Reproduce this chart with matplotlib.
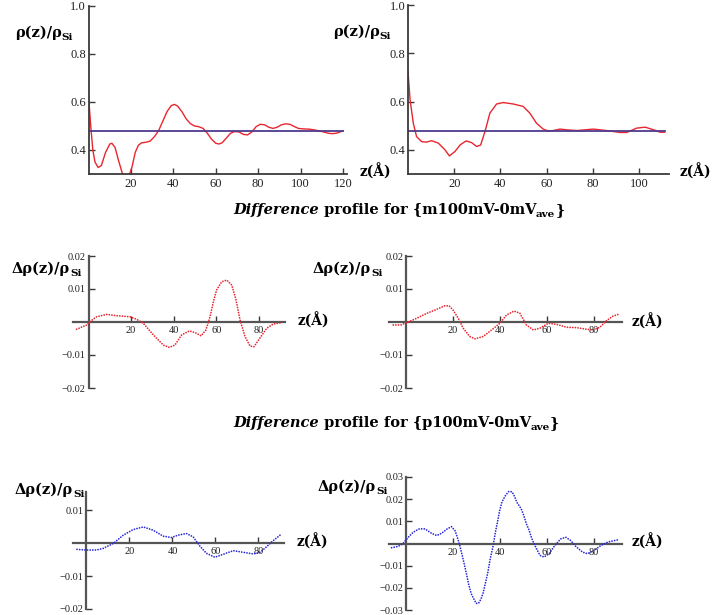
"""
Density profiles rho(z)/rho_Si and difference profiles, recreated from the figure.
"""
import matplotlib
matplotlib.use("Agg")
import matplotlib.pyplot as plt
from matplotlib.text import Annotation

W, H = 716, 615

# top row: rho(z)/rho_Si
Z_TL = [0, 1, 2, 3, 4.5, 6, 8, 10, 11, 12.5, 14, 16, 17.5, 19, 20.5, 22, 23.5, 25, 27, 29,
        31, 33, 35, 37, 39, 40.5, 42, 44, 46, 48, 50, 52, 54, 56, 58, 60, 61.5, 63, 65, 67,
        69, 71, 73, 75, 77, 79, 81, 83, 85, 87, 89, 91, 93, 95, 97, 99, 101, 104, 107, 110,
        113, 115, 117, 120]
RHO_TL = [0.62, 0.50, 0.40, 0.35, 0.327, 0.335, 0.39, 0.425, 0.428, 0.41, 0.36, 0.30, 0.278,
          0.29, 0.33, 0.39, 0.42, 0.43, 0.432, 0.437, 0.455, 0.48, 0.52, 0.56, 0.585, 0.59,
          0.583, 0.56, 0.53, 0.51, 0.50, 0.497, 0.49, 0.47, 0.445, 0.428, 0.425, 0.43, 0.45,
          0.47, 0.477, 0.475, 0.465, 0.463, 0.475, 0.497, 0.507, 0.505, 0.495, 0.49, 0.495,
          0.505, 0.509, 0.507, 0.498, 0.49, 0.488, 0.487, 0.483, 0.477, 0.47, 0.468, 0.47, 0.48]

Z_TR = [0, 0.9, 2.3, 3.7, 5.9, 8, 10.2, 13.1, 16, 17.9, 20.3, 22.5, 25.1, 27.5, 29.7, 31.4,
        33.3, 35.4, 38.3, 41.2, 45.5, 49.8, 52.7, 55.6, 58.5, 60.7, 62.8, 65.7, 68.6, 73,
        80.2, 85.9, 91.7, 94.6, 98.9, 102.6, 106.2, 109.1, 111]
RHO_TR = [0.724, 0.607, 0.51, 0.455, 0.434, 0.432, 0.438, 0.428, 0.40, 0.375, 0.393, 0.42,
          0.437, 0.43, 0.414, 0.42, 0.476, 0.552, 0.59, 0.596, 0.59, 0.58, 0.552, 0.51, 0.486,
          0.478, 0.48, 0.486, 0.483, 0.48, 0.486, 0.48, 0.472, 0.472, 0.49, 0.494, 0.483,
          0.473, 0.473]

RHO_AVE = 0.48

# difference profiles {m100mV-0mV_ave}
Z_ML = [-5.6, -0.9, 0.2, 3.8, 8.5, 13.2, 19.4, 22.6, 25.7, 30.4, 35.1, 37.9, 40.5, 43.7, 47.3,
        49.9, 52.8, 55.1, 57, 58.6, 60.1, 62.5, 64.8, 67.2, 69.2, 71.1, 73.4, 75.8, 77.6, 80.4,
        83.6, 86.7, 90.6]
D_ML = [-0.0022, -0.0009, -0.0001, 0.0016, 0.0023, 0.0019, 0.0016, 0.0008, -0.0004, -0.0039,
        -0.0070, -0.0077, -0.0070, -0.0039, -0.0027, -0.0032, -0.0042, -0.0024, 0.0016, 0.0062,
        0.0097, 0.0122, 0.0127, 0.0112, 0.0067, 0.0006, -0.0044, -0.0073, -0.0075, -0.0049,
        -0.0019, -0.0006, -0.0002]

Z_MR = [-5.4, -2.1, 0.3, 4.5, 8.8, 13, 16.5, 18.4, 20.1, 22.3, 24.4, 27.2, 29.4, 32.9, 36.5,
        40, 42.8, 46, 48.5, 51.3, 54.2, 57, 60.6, 64.1, 68.4, 72.6, 76.9, 79.7, 82.6, 85.4,
        88.2, 90.4]
D_MR = [-0.0009, -0.0009, -0.0002, 0.0011, 0.0026, 0.0038, 0.0049, 0.0049, 0.0036, 0.0011,
        -0.0019, -0.0044, -0.0051, -0.0044, -0.0024, -0.0004, 0.0021, 0.0033, 0.0027, -0.0009,
        -0.0024, -0.0019, -0.0004, -0.0007, -0.0016, -0.0017, -0.0022, -0.0024, -0.0016,
        0.0004, 0.0018, 0.0023]

# difference profiles {p100mV-0mV_ave}
Z_BL = [-4.4, -0.2, 4.7, 7.8, 12.5, 17.1, 21.7, 26.4, 31, 35.7, 39.5, 42.6, 46.5, 49.6, 52.7,
        55.8, 59.7, 63.6, 68.3, 72.9, 77.6, 80.7, 83.8, 86.2, 90]
D_BL = [-0.0019, -0.0021, -0.0021, -0.0016, -0.0001, 0.0024, 0.0041, 0.0049, 0.0039, 0.0021,
        0.0017, 0.0024, 0.0029, 0.0019, -0.0009, -0.0031, -0.0043, -0.0034, -0.0023, -0.0028,
        -0.0033, -0.0028, -0.0011, 0.0004, 0.0024]

Z_BR = [-6.1, -3.3, -1.2, 1, 3.1, 5.7, 8.1, 10.9, 13.1, 15.2, 17.6, 19.4, 20.9, 21.9, 22.8,
        23.8, 24.8, 25.9, 26.8, 27.8, 28.8, 29.9, 30.9, 31.9, 32.8, 33.8, 34.9, 35.9, 37.1,
        38.1, 39.1, 39.9, 40.9, 42.3, 43.8, 45.2, 46.3, 47.3, 49.1, 50.2, 51.2, 52.4, 53.4,
        54.5, 55.6, 57.1, 58.8, 61, 63.1, 65.9, 68.1, 70.2, 72.3, 75.2, 77.3, 80.2, 83, 85.9,
        88.7, 90.9]
D_BR = [-0.0019, -0.0013, 0.0, 0.0028, 0.0051, 0.0066, 0.0066, 0.0046, 0.0036, 0.0046, 0.0066,
        0.0076, 0.0058, 0.0028, -0.0004, -0.0046, -0.0091, -0.0143, -0.0188, -0.0226, -0.0248,
        -0.0270, -0.0270, -0.0252, -0.0226, -0.0181, -0.0129, -0.0069, -0.0013, 0.0051, 0.0103,
        0.0148, 0.0188, 0.0215, 0.0235, 0.0233, 0.0211, 0.0185, 0.0156, 0.0126, 0.0091, 0.0061,
        0.0028, 0.0, -0.0024, -0.0054, -0.0061, -0.0046, -0.0013, 0.0021, 0.0028, 0.0013,
        -0.0013, -0.0039, -0.0046, -0.0031, -0.0009, 0.0006, 0.0013, 0.0018]

RED = "#e8262f"
BLUE = "#2a2ad8"
PURPLE = "#4e3a8e"
AXIS = "#3a3a3a"
LABEL_FONT = "DejaVu Serif"
TICK_FONT = "Liberation Serif"


def panel(fig, x0, x1, ytop, ybot, xlim, ylim):
    ax = fig.add_axes([x0 / W, 1 - ybot / H, (x1 - x0) / W, (ybot - ytop) / H])
    ax.set_xlim(xlim)
    ax.set_ylim(ylim)
    ax.patch.set_alpha(0)
    for s in ["top", "right"]:
        ax.spines[s].set_visible(False)
    for s in ["left", "bottom"]:
        ax.spines[s].set_color(AXIS)
        ax.spines[s].set_linewidth(1.3)
    ax.tick_params(direction="in", length=4, width=1, colors=AXIS, labelcolor="#222222")
    ax.tick_params(axis="y", pad=2)
    ax.tick_params(axis="x", pad=3)
    return ax


def rich(fig, x, y, parts):
    """parts: (text, size, style, dy) pieces laid out left to right."""
    text, size, style, _ = parts[0]
    first = fig.text(x / W, 1 - y / H, text, fontsize=size, fontweight="bold", style=style,
                     family=LABEL_FONT, ha="left", va="center")
    prev = first
    for text, size, style, dy in parts[1:]:
        ann = Annotation(text, xy=(1, 0), xycoords=(prev, first), xytext=(0, dy),
                         textcoords="offset points", fontsize=size, fontweight="bold",
                         style=style, family=LABEL_FONT, ha="left", va="bottom")
        fig.add_artist(ann)
        prev = ann


def ylab(fig, x, y, delta):
    head = "\u0394\u03c1(z)/\u03c1" if delta else "\u03c1(z)/\u03c1"
    rich(fig, x, y, [(head, 10.5, "normal", 0), ("Si", 7.5, "normal", -1.5)])


def xlab(fig, x, y):
    rich(fig, x, y, [("z(\u00c5)", 10, "normal", 0)])


def title(fig, x, y, tag):
    rich(fig, x, y, [("Difference", 10.5, "italic", 0),
                     (" profile for {" + tag + "100mV-0mV", 10.5, "normal", 0),
                     ("ave", 7.5, "normal", -1.5),
                     ("}", 10.5, "normal", 0)])


def diff_panel(ax, z, d, color, yticks, fs=7.5):
    ax.spines["left"].set_position(("data", 0))
    ax.spines["bottom"].set_position(("data", 0))
    ax.spines["left"].set_color("#555555")
    ax.spines["bottom"].set_color("#555555")
    ax.spines["left"].set_linewidth(1.6)
    ax.spines["bottom"].set_linewidth(1.6)
    ax.plot(z, d, color=color, lw=1.3, linestyle=(0, (0.01, 1.45)),
            dash_capstyle="round", zorder=3)
    ax.set_xticks([20, 40, 60, 80])
    ax.set_xticklabels(["20", "40", "60", "80"], family=TICK_FONT, fontsize=fs)
    ax.set_yticks(yticks)
    ax.set_yticklabels([f"{v:.2f}".replace("-", "\u2212") for v in yticks],
                       family=TICK_FONT, fontsize=fs)


fig = plt.figure(figsize=(W / 100, H / 100), dpi=100)

# top left
ax = panel(fig, 88.6, 347.2, 6, 174, (0, 122), (0.3, 1.0))
ax.plot(Z_TL, RHO_TL, color=RED, lw=1.0, clip_on=True)
ax.plot([0, 120], [RHO_AVE, RHO_AVE], color=PURPLE, lw=1.3)
ax.set_xticks([20, 40, 60, 80, 100, 120])
ax.set_xticklabels(["20", "40", "60", "80", "100", "120"], family=TICK_FONT, fontsize=9)
ax.set_yticks([0.4, 0.6, 0.8, 1.0])
ax.set_yticklabels(["0.4", "0.6", "0.8", "1.0"], family=TICK_FONT, fontsize=9)

# top right
ax = panel(fig, 408, 669.3, 5, 174, (0, 113), (0.3, 1.0))
ax.plot(Z_TR, RHO_TR, color=RED, lw=1.0)
ax.plot([0, 111], [RHO_AVE, RHO_AVE], color=PURPLE, lw=1.3)
ax.set_xticks([20, 40, 60, 80, 100])
ax.set_xticklabels(["20", "40", "60", "80", "100"], family=TICK_FONT, fontsize=9)
ax.set_yticks([0.4, 0.6, 0.8, 1.0])
ax.set_yticklabels(["0.4", "0.6", "0.8", "1.0"], family=TICK_FONT, fontsize=9)

ylab(fig, 15, 33, False)
ylab(fig, 333, 32, False)
xlab(fig, 360, 172)
xlab(fig, 680, 172)

# middle row
ax = panel(fig, 73, 284.6, 256, 388, (-7.3, 92), (-0.02, 0.02))
diff_panel(ax, Z_ML, D_ML, RED, [-0.02, -0.01, 0.01, 0.02])
ax = panel(fig, 389, 622, 256, 388, (-7.2, 92), (-0.02, 0.02))
diff_panel(ax, Z_MR, D_MR, RED, [-0.02, -0.01, 0.01, 0.02])

title(fig, 233, 210, "m")
ylab(fig, 12, 269, True)
ylab(fig, 313, 269, True)
xlab(fig, 298, 321)
xlab(fig, 632, 322)

# bottom row
ax = panel(fig, 72.5, 284.3, 492, 609, (-6.5, 92), (-0.02, 0.0155))
diff_panel(ax, Z_BL, D_BL, BLUE, [-0.02, -0.01, 0.01])
ax = panel(fig, 389, 622, 477, 610, (-7.2, 92), (-0.03, 0.03))
diff_panel(ax, Z_BR, D_BR, BLUE, [-0.03, -0.02, -0.01, 0.01, 0.02, 0.03])

title(fig, 233, 423, "p")
ylab(fig, 15, 490, True)
ylab(fig, 318, 487, True)
xlab(fig, 297, 542)
xlab(fig, 632, 542)

fig.savefig("out.png", dpi=100)
